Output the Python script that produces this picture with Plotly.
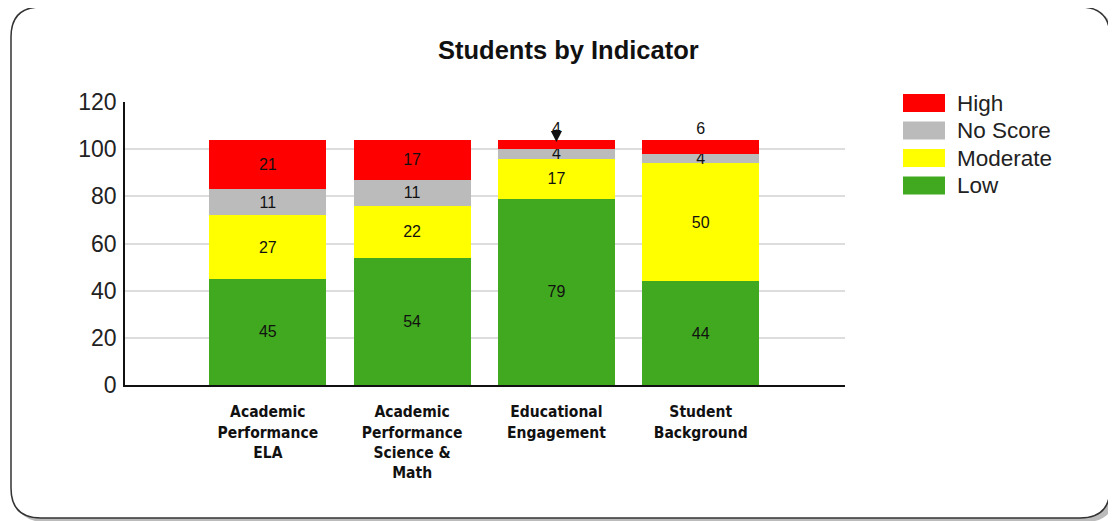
import plotly.graph_objects as go

categories = ["Academic<br>Performance<br>ELA", "Academic<br>Performance<br>Science &<br>Math",
              "Educational<br>Engagement", "Student<br>Background"]
series_names = ["High", "No Score", "Moderate", "Low"]
low = [45, 54, 79, 44]
moderate = [27, 22, 17, 50]
no_score = [11, 11, 4, 4]
high = [21, 17, 4, 6]
colors = {"High": "#FF0000", "No Score": "#BBBBBB", "Moderate": "#FFFF00", "Low": "#41A91F"}
y_ticks = [0, 20, 40, 60, 80, 100, 120]

# page has an 8px body margin: the figure starts at (8, 8) of the window
O = 8
W, H = 1116 - O, 521 - O
L, T = 125 - O, 102 - O
PW, PH = 720, 283
R = W - L - PW
B = H - T - PH


def px(x):
    return (x - O - L) / PW


def py(y):
    return (T + PH - (y - O)) / PH


xs = list(range(len(categories)))
fig = go.Figure()
stack = [("Low", low), ("Moderate", moderate), ("No Score", no_score), ("High", high)]
for name, vals in stack:
    texts = [str(v) for v in vals]
    positions = ["inside"] * len(vals)
    if name == "High":
        positions = ["inside" if v >= 10 else "outside" for v in vals]
    fig.add_trace(go.Bar(
        x=xs, y=vals, name=name, marker=dict(color=colors[name], line=dict(width=0)),
        width=0.81, text=texts, textposition=positions, insidetextanchor="middle",
        textangle=0, constraintext="none", cliponaxis=False,
        textfont=dict(family="Liberation Sans, Arial", size=16, color="#111111"),
        outsidetextfont=dict(family="Liberation Sans, Arial", size=16, color="#111111"),
        showlegend=False, hoverinfo="skip"))

totals = [a + b + c + d for a, b, c, d in zip(low, moderate, no_score, high)]

# small down-pointing marker on the Educational Engagement "High" label
annotations = [dict(x=2, y=totals[2] - 1, xref="x", yref="y", text="", showarrow=True,
                    arrowhead=2, arrowsize=1.4, arrowwidth=1.6, arrowcolor="#111111", ax=0, ay=-14)]

shapes = []


def rounded_path(x0, y0, x1, y1, r):
    def P(x, y):
        return f"{px(x):.5f},{py(y):.5f}"
    return (f"M {P(x0 + r, y0)} L {P(x1 - r, y0)} Q {P(x1, y0)} {P(x1, y0 + r)} "
            f"L {P(x1, y1 - r)} Q {P(x1, y1)} {P(x1 - r, y1)} L {P(x0 + r, y1)} "
            f"Q {P(x0, y1)} {P(x0, y1 - r)} L {P(x0, y0 + r)} Q {P(x0, y0)} {P(x0 + r, y0)} Z")


# frame with shadow
shapes.append(dict(type="path", xref="paper", yref="paper", path=rounded_path(15, 11, 1115, 522, 30),
                   fillcolor="#BBBBBB", line=dict(width=0), layer="below"))
shapes.append(dict(type="path", xref="paper", yref="paper", path=rounded_path(11, 7, 1110, 518, 30),
                   fillcolor="white", line=dict(color="#333333", width=1.5), layer="below"))

# legend
legend_rows = [103, 130.5, 158, 185.5]
for name, yc in zip(series_names, legend_rows):
    shapes.append(dict(type="rect", xref="paper", yref="paper",
                       x0=px(903), x1=px(945), y0=py(yc + 9), y1=py(yc - 9),
                       fillcolor=colors[name], line=dict(width=0)))
    annotations.append(dict(x=px(955), y=py(yc), xref="paper", yref="paper", text=name,
                            showarrow=False, xanchor="left", yanchor="middle",
                            font=dict(family="Liberation Sans, Arial", size=22.5, color="#222222")))

annotations.append(dict(x=px(568), y=py(50), xref="paper", yref="paper", text="<b>Students by Indicator</b>",
                        showarrow=False, xanchor="center", yanchor="middle",
                        font=dict(family="Liberation Sans, Arial", size=25.5, color="#111111")))

fig.update_layout(
    width=W, height=H, margin=dict(l=L, r=R, t=T, b=B),
    paper_bgcolor="white", plot_bgcolor="white",
    barmode="stack",
    shapes=shapes, annotations=annotations,
    xaxis=dict(range=[-0.99, 4.0], tickmode="array", tickvals=xs, ticktext=[f"<b>{c}</b>" for c in categories],
               showgrid=False, showline=True, linecolor="#111111", linewidth=1.5, ticks="",
               ticklabelstandoff=12,
               tickfont=dict(family="DejaVu Sans Condensed, Liberation Sans", size=15.5, color="#111111"),
               zeroline=False, fixedrange=True),
    yaxis=dict(range=[0, 120], tickvals=y_ticks, showgrid=True, gridcolor="#DDDDDD", gridwidth=1.5,
               showline=True, linecolor="#111111", linewidth=1.5, ticks="", zeroline=False,
               ticklabelstandoff=2,
               tickfont=dict(family="Liberation Sans, Arial", size=23, color="#222222"), fixedrange=True),
    showlegend=False,
)

fig.write_html("out.html")
